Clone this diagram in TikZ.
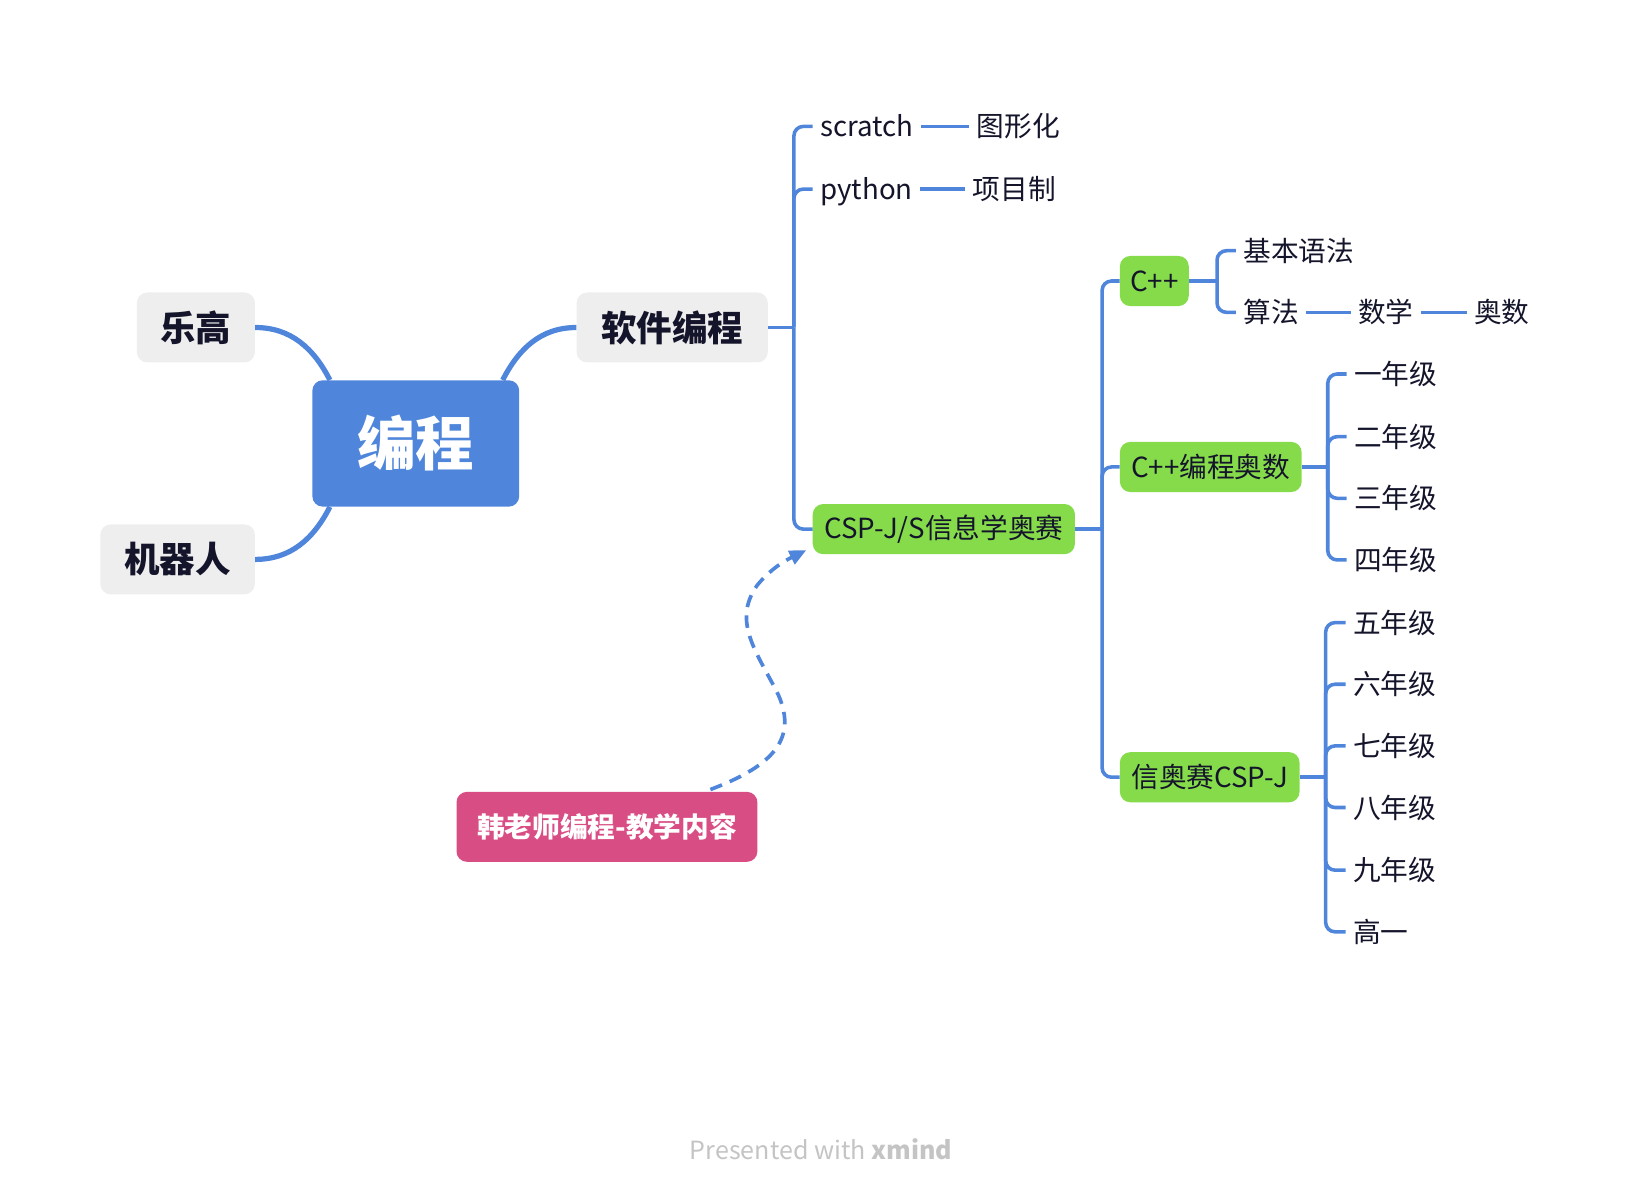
\documentclass[tikz,border=0pt]{standalone}
\usepackage{fontspec}
\setmainfont{Noto Sans CJK SC}
\usetikzlibrary{arrows.meta,calc}
\definecolor{lineblue}{HTML}{4F86DB}
\definecolor{txt}{HTML}{14142B}
\definecolor{boxgray}{HTML}{EEEEEE}
\definecolor{topicgreen}{HTML}{86DB4B}
\definecolor{pinkbox}{HTML}{D94D85}
\definecolor{footgray}{HTML}{C4C4C4}
\tikzset{
  mainline/.style={line width=5pt, draw=lineblue},
  branch/.style={line width=3.4pt, draw=lineblue, rounded corners=9pt},
  leaf/.style={anchor=west, inner xsep=7pt, inner ysep=0pt, text=txt,
    font=\fontsize{26.5}{30}\selectfont, text height=23.3pt, text depth=3.2pt},
  gbox/.style={fill=boxgray, rounded corners=10pt, text=txt,
    font=\fontsize{34}{40}\selectfont\bfseries, minimum height=67pt, inner sep=0pt},
  greenbox/.style={fill=topicgreen, rounded corners=10pt, text=txt,
    font=\fontsize{26.5}{30}\selectfont, minimum height=48pt, inner sep=0pt},
  relbox/.style={fill=pinkbox, rounded corners=10pt, text=white,
    font=\fontsize{26.5}{30}\selectfont\bfseries, minimum height=67pt, inner sep=0pt},
  relline/.style={line width=3.5pt, draw=lineblue, dash pattern=on 12pt off 8pt,
    -{Triangle[length=16pt,width=14pt]}}
}
\begin{document}
\begin{tikzpicture}[x=1pt,y=-1pt]
\useasboundingbox (0,0) rectangle (1568,1147);

% boxes
\node[gbox, fill=lineblue, text=white, minimum width=198pt, minimum height=121pt,
  font=\fontsize{56}{60}\selectfont\bfseries] (prog) at (398,424.5) {编程};
\node[gbox, minimum width=113pt] (lego) at (187.5,313.5) {乐高};
\node[gbox, minimum width=148pt] (robot) at (170,535.5) {机器人};
\node[gbox, minimum width=183pt] (sw) at (643.5,313.5) {软件编程};
\node[greenbox, minimum width=251pt] (csp) at (903.5,506.5) {CSP-J/S信息学奥赛};
\node[greenbox, minimum width=66pt] (cpp) at (1105,269) {C++};
\node[greenbox, minimum width=174pt] (cppao) at (1159,447) {C++编程奥数};
\node[greenbox, minimum width=172pt] (xao) at (1158,744) {信奥赛CSP-J};
\node[relbox, minimum width=288pt] (han) at (581,791.5) {韩老师编程-教学内容};

% leaves
\node[leaf] (scratch) at (778,121) {scratch};
\node[leaf] (txh) at (928,121) {图形化};
\node[leaf] (python) at (778,181) {python};
\node[leaf] (xmz) at (924,181) {项目制};
\node[leaf] (jbyf) at (1183,240) {基本语法};
\node[leaf] (sf) at (1183,299) {算法};
\node[leaf] (sx) at (1293,299) {数学};
\node[leaf] (as) at (1404,299) {奥数};
\node[leaf] (g1) at (1289,358) {一年级};
\node[leaf] (g2) at (1289,418) {二年级};
\node[leaf] (g3) at (1289,477) {三年级};
\node[leaf] (g4) at (1289,536) {四年级};
\node[leaf] (g5) at (1288,596) {五年级};
\node[leaf] (g6) at (1288,655) {六年级};
\node[leaf] (g7) at (1288,714) {七年级};
\node[leaf] (g8) at (1288,773) {八年级};
\node[leaf] (g9) at (1288,833) {九年级};
\node[leaf] (g10) at (1288,892) {高一};

% main connectors
\draw[mainline] (lego.east) to[out=0,in=117] ($(prog.north west)+(17,0)$);
\draw[mainline] (robot.east) to[out=0,in=-117] ($(prog.south west)+(17,0)$);
\draw[mainline] ($(prog.north east)+(-16,0)$) to[out=63,in=180] (sw.west);

% software branch
\coordinate (j1) at (760,313.5);
\draw[branch] (sw.east) -- (j1);
\draw[branch] (j1) |- (scratch.west);
\draw[branch] (j1) |- (python.west);
\draw[branch] (j1) |- (csp.west);
\draw[branch] (scratch.east) -- (txh.west);
\draw[branch] (python.east) -- (xmz.west);

% CSP branch
\coordinate (j2) at (1055,506.5);
\draw[branch] (csp.east) -- (j2);
\draw[branch] (j2) |- (cpp.west);
\draw[branch] (j2) |- (cppao.west);
\draw[branch] (j2) |- (xao.west);

% C++ branch
\coordinate (j3) at (1165,269);
\draw[branch] (cpp.east) -- (j3);
\draw[branch] (j3) |- (jbyf.west);
\draw[branch] (j3) |- (sf.west);
\draw[branch] (sf.east) -- (sx.west);
\draw[branch] (sx.east) -- (as.west);

% C++编程奥数 branch
\coordinate (j4) at (1271,447);
\draw[branch] (cppao.east) -- (j4);
\foreach \g in {g1,g2,g3,g4} \draw[branch] (j4) |- (\g.west);

% 信奥赛 branch
\coordinate (j5) at (1269,744);
\draw[branch] (xao.east) -- (j5);
\foreach \g in {g5,g6,g7,g8,g9,g10} \draw[branch] (j5) |- (\g.west);

% relationship
\coordinate (dstart) at ($(han.north)+(99,-2)$);
\coordinate (dend) at ($(csp.south west)+(-6,-4)$);
\draw[relline] (dstart) .. controls (735,735) and (765,710) .. (745,665)
  .. controls (725,625) and (700,595) .. (725,560)
  .. controls (740,542) and (755,535) .. (dend);

% footer
\node[text=footgray, font=\fontsize{24}{28}\selectfont] (foot) at (786,1100) {Presented with \textbf{xmind}};
\end{tikzpicture}
\end{document}
